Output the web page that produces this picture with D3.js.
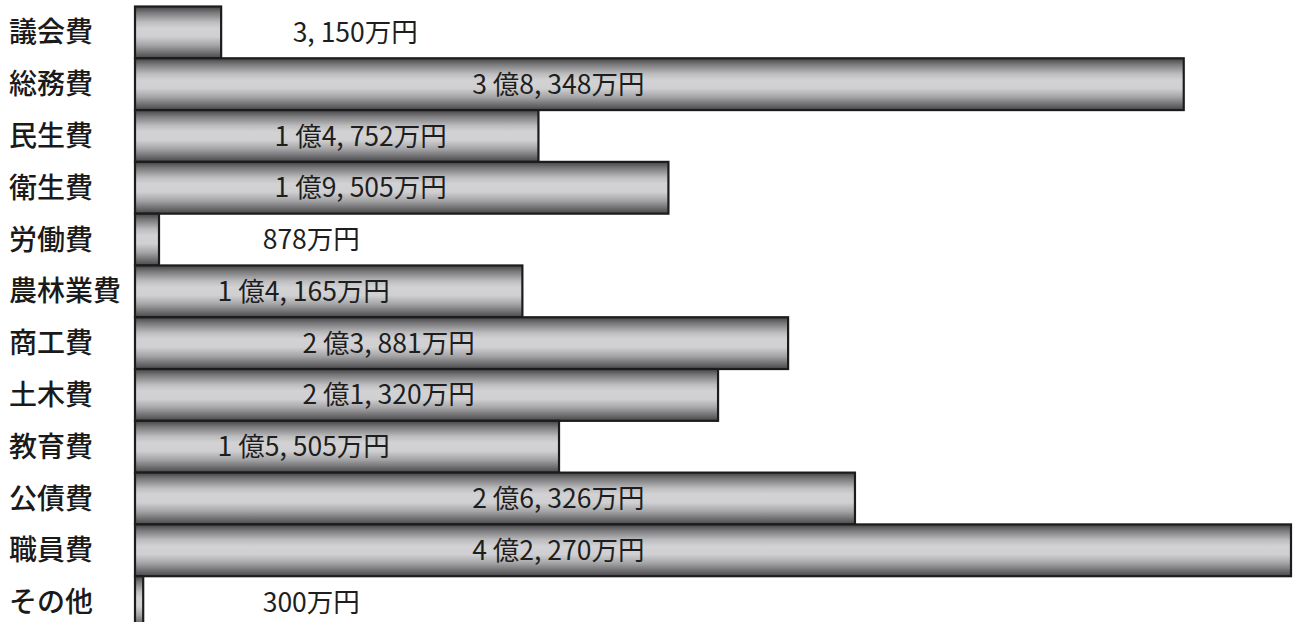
<!DOCTYPE html>
<html lang="ja">
    <head>
        <meta charset="utf-8">
        <title>歳出内訳</title>
        <script src="https://d3js.org/d3.v7.min.js"></script>
        <style type="text/css">
            body { margin: 0; background: #fff; }
            .cat {
                font-family: "Noto Sans CJK JP", sans-serif;
                font-size: 28px;
                font-weight: 500;
                fill: #1a1a1a;
            }
            .val {
                font-family: "Noto Sans CJK JP", sans-serif;
                font-size: 26.5px;
                fill: #1e1e1e;
            }
        </style>
    </head>
    <body>
        <script type="text/javascript">
            // 費目と金額（万円）
            const categories = ["議会費", "総務費", "民生費", "衛生費", "労働費", "農林業費",
                                "商工費", "土木費", "教育費", "公債費", "職員費", "その他"]
            const amounts = [3150, 38348, 14752, 19505, 878, 14165, 23881, 21320, 15505, 26326, 42270, 300]
            const valueLabels = ["3, 150万円", "3 億8, 348万円", "1 億4, 752万円", "1 億9, 505万円",
                                 "878万円", "1 億4, 165万円", "2 億3, 881万円", "2 億1, 320万円",
                                 "1 億5, 505万円", "2 億6, 326万円", "4 億2, 270万円", "300万円"]
            // where each value label ends, in the same units as the bars (万円)
            const labelEnds = [10340, 18630, 11400, 11400, 8220, 9320, 12420, 12420, 9320, 18630, 18630, 8220]

            const w = 1293
            const h = 622

            const svg = d3.select("body")
                            .append("svg")
                            .attr("width", w)
                            .attr("height", h)

            const defs = svg.append("defs")
            const grad = defs.append("linearGradient")
                            .attr("id", "barGrad")
                            .attr("x1", 0).attr("y1", 0)
                            .attr("x2", 0).attr("y2", 1)
            const stops = [
                [0, "#434345"], [0.12, "#7a7a7c"], [0.3, "#bcbcbe"], [0.42, "#d2d2d4"],
                [0.58, "#d0d0d2"], [0.75, "#a4a4a6"], [0.9, "#6c6c6e"], [1, "#48484a"]
            ]
            grad.selectAll("stop")
                .data(stops)
                .enter()
                .append("stop")
                .attr("offset", d => d[0])
                .attr("stop-color", d => d[1])

            const xScale = d3.scaleLinear()
                            .domain([0, d3.max(amounts)])
                            .range([135, w - 2])

            const yScale = d3.scaleBand()
                            .domain(categories)
                            .range([6.5, 628])
                            .padding(0)

            const rows = categories.map((c, i) => ({ cat: c, v: amounts[i], label: valueLabels[i], end: labelEnds[i] }))

            svg.selectAll("rect.bar")
                .data(rows)
                .enter()
                .append("rect")
                .attr("class", "bar")
                .attr("x", xScale(0))
                .attr("y", d => yScale(d.cat))
                .attr("width", d => xScale(d.v) - xScale(0))
                .attr("height", yScale.bandwidth())
                .attr("fill", "url(#barGrad)")
                .attr("stroke", "#1c1c1c")
                .attr("stroke-width", 2.2)

            svg.selectAll("text.cat")
                .data(rows)
                .enter()
                .append("text")
                .attr("class", "cat")
                .attr("x", 9)
                .attr("y", d => yScale(d.cat) + yScale.bandwidth() / 2)
                .attr("dy", "0.36em")
                .text(d => d.cat)

            svg.selectAll("text.val")
                .data(rows)
                .enter()
                .append("text")
                .attr("class", "val")
                .attr("x", d => xScale(d.end))
                .attr("y", d => yScale(d.cat) + yScale.bandwidth() / 2)
                .attr("dy", "0.36em")
                .attr("text-anchor", "end")
                .text(d => d.label)
        </script>
    </body>
</html>
